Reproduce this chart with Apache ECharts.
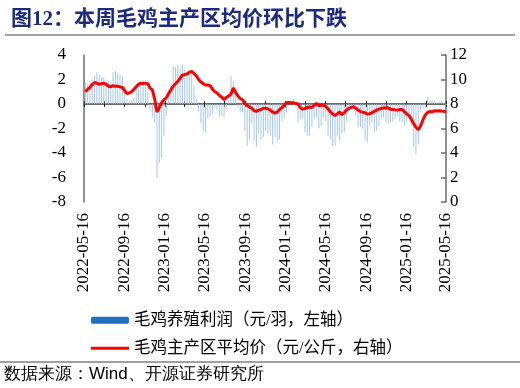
<!DOCTYPE html>
<html>
<head>
<meta charset="utf-8">
<script src="https://cdn.jsdelivr.net/npm/echarts@6/dist/echarts.min.js"></script>
<style>
html,body{margin:0;padding:0;background:#fff;}
#chart{width:520px;height:388px;}
</style>
</head>
<body>
<div id="chart"></div>
<script>
// Weekly data (Fridays) starting 2022-05-20
const firstWeek = '2022-05-20';
const profitLeft = [
 1.8,1.6,1.9,2.0,2.3,2.6,2.4,2.2,2.2,1.9,
 1.9,1.8,2.6,2.7,2.5,2.4,2.3,1.5,0.4,0.2,
 0.3,0.5,1.1,1.2,1.7,1.9,1.8,1.0,-0.5,-1.1,
 -1.5,-6.0,-4.8,-4.4,-2.6,-1.0,0.8,1.6,3.1,3.0,
 3.2,2.9,3.2,2.8,2.6,2.5,2.7,1.5,0.4,-0.6,
 -1.6,-2.2,-2.3,-1.2,-1.0,-0.8,-0.3,-0.5,-1.0,-0.9,
 -1.1,-0.4,0.3,2.3,1.9,0.8,-0.3,-0.7,-0.7,-2.2,
 -3.4,-2.9,-1.6,-3.0,-3.5,-2.4,-2.9,-2.7,-2.2,-2.4,
 -2.6,-3.3,-2.7,-3.0,-2.9,-1.4,-1.2,-0.7,0.2,0.3,
 0.4,-0.2,-1.5,-1.2,-1.2,-2.3,-2.6,-2.6,-1.9,-1.2,
 -1.1,-2.0,-1.8,-1.1,-1.4,-2.6,-2.9,-3.4,-3.4,-2.6,
 -3.0,-2.4,-2.3,-1.4,-0.4,-0.3,-0.5,-1.0,-1.9,-1.9,
 -2.0,-3.0,-3.1,-1.8,-1.5,-2.3,-2.2,-1.8,-1.2,-1.1,
 -1.5,-1.6,-1.5,-1.4,-1.2,-1.0,-1.4,-1.5,-1.8,-1.5,
 -1.0,-1.8,-3.5,-4.1,-3.3,-0.5,-0.4,-0.3,0.6,0.2,
 0.3,0.2,0.1,0.2,0.3,0.1,-0.1
];
const priceRight = [
 9.0,9.2,9.35,9.6,9.75,9.7,9.6,9.65,9.7,9.6,
 9.45,9.4,9.5,9.45,9.45,9.4,9.35,9.1,8.85,8.9,
 9.0,9.2,9.4,9.6,9.7,9.68,9.7,9.65,9.3,9.15,
 8.4,7.35,7.7,8.1,8.35,8.5,8.85,9.15,9.45,9.65,
 9.85,10.1,10.35,10.4,10.45,10.6,10.65,10.5,10.3,10.0,
 9.8,9.65,9.55,9.55,9.5,9.2,9.0,8.9,8.7,8.55,
 8.35,8.55,8.65,8.8,9.3,8.95,8.65,8.45,8.35,8.05,
 7.9,7.75,7.65,7.45,7.4,7.5,7.55,7.65,7.65,7.6,
 7.5,7.35,7.25,7.35,7.55,7.7,7.9,8.1,8.12,8.1,
 8.1,8.05,8.0,7.7,7.58,7.62,7.72,7.75,7.72,7.9,
 8.05,7.85,7.9,7.92,7.8,7.6,7.35,7.2,7.05,7.2,
 7.35,7.12,7.3,7.5,7.65,7.72,7.78,7.65,7.5,7.38,
 7.32,7.28,7.18,7.2,7.3,7.4,7.5,7.58,7.65,7.68,
 7.7,7.68,7.58,7.55,7.52,7.5,7.55,7.55,7.38,7.2,
 7.05,6.75,6.4,6.1,5.9,6.2,6.7,7.1,7.3,7.4,
 7.35,7.45,7.42,7.45,7.42,7.4,7.35
];
const tickLabels = ['2022-05-16','2022-09-16','2023-01-16','2023-05-16','2023-09-16',
 '2024-01-16','2024-05-16','2024-09-16','2025-01-16','2025-05-16'];
const tickMarks = ['2022-05-16','2022-07-16','2022-09-16','2022-11-16','2023-01-16','2023-03-16',
 '2023-05-16','2023-07-16','2023-09-16','2023-11-16','2024-01-16','2024-03-16','2024-05-16',
 '2024-07-16','2024-09-16','2024-11-16','2025-01-16','2025-03-16','2025-05-16'];
const leftTicks = {min:-8, max:4, step:2};
const rightTicks = {min:0, max:12, step:2};
const barName = '毛鸡养殖利润（元/羽，左轴）';
const lineName = '毛鸡主产区平均价（元/公斤，右轴）';
const titleText = '图12：本周毛鸡主产区均价环比下跌';
const sourceText = '数据来源：Wind、开源证券研究所';

function ts(s){const p=s.split('-').map(Number);return Date.UTC(p[0],p[1]-1,p[2]);}
function fmt(v){const d=new Date(v);const m=d.getUTCMonth()+1,dd=d.getUTCDate();return d.getUTCFullYear()+'-'+(m<10?'0':'')+m+'-'+(dd<10?'0':'')+dd;}
const fp = firstWeek.split('-').map(Number);
const weeks = profitLeft.map((_,i)=>Date.UTC(fp[0],fp[1]-1,fp[2]+7*i));
const barData = weeks.map((t,i)=>[t,profitLeft[i]]);
const lineData = weeks.map((t,i)=>[t,priceRight[i]]);

const serif = '"Liberation Serif","Times New Roman","Noto Sans CJK SC",serif';
const cjk = '"Liberation Serif","Noto Sans CJK SC",sans-serif';
const xMin = ts(tickLabels[0]), xMax = ts(tickLabels[tickLabels.length-1]);

function zeroAxis(inside){
  return {type:'value', min:xMin, max:xMax, position:'bottom',
    axisLine:{show:true,onZero:true,onZeroAxisIndex:0,lineStyle:{color:'#6b6b6b',width:2}},
    axisTick:{show:true,inside:inside,length:3,customValues:tickMarks.map(ts),lineStyle:{color:'#222',width:1}},
    axisLabel:{show:false}, splitLine:{show:false}};
}

const chart = echarts.init(document.getElementById('chart'), null, {renderer:'canvas'});
chart.setOption({
  backgroundColor:'#fff',
  animation:false,
  title:{text:titleText,left:6,top:4,textStyle:{fontSize:21,fontWeight:'bold',color:'#1c2a80',fontFamily:cjk}},
  grid:{left:84,right:74,top:55,bottom:186,outerBoundsMode:'none'},
  legend:[
    {data:[{name:barName,itemStyle:{color:'#1f6fc5'}}],left:86,top:307,itemWidth:38,itemHeight:7,
     selectedMode:false,textStyle:{fontSize:16.5,color:'#000',fontFamily:cjk}},
    {data:[{name:lineName,icon:'rect'}],left:86,top:335,itemWidth:38,itemHeight:3,
     selectedMode:false,textStyle:{fontSize:16.5,color:'#000',fontFamily:cjk}}
  ],
  xAxis:[
    {type:'value',min:xMin,max:xMax,position:'bottom',
     axisLine:{show:false,onZero:false},axisTick:{show:false},splitLine:{show:false},
     axisLabel:{customValues:tickLabels.map(ts),rotate:90,margin:11,fontSize:17,color:'#000',fontFamily:serif,
       showMinLabel:true,showMaxLabel:true,formatter:function(v){return fmt(v);}}},
    zeroAxis(false),
    zeroAxis(true)
  ],
  yAxis:[
    {type:'value',position:'left',min:leftTicks.min,max:leftTicks.max,interval:leftTicks.step,
     axisLine:{show:true,onZero:false,lineStyle:{color:'#6b6b6b',width:1.5}},axisTick:{show:false},
     splitLine:{show:false},axisLabel:{margin:18,fontSize:17,color:'#000',fontFamily:serif}},
    {type:'value',position:'right',min:rightTicks.min,max:rightTicks.max,interval:rightTicks.step,
     axisLine:{show:true,onZero:false,lineStyle:{color:'#6b6b6b',width:1.5}},
     axisTick:{show:true,inside:true,length:5,lineStyle:{color:'#6b6b6b',width:1.5}},
     splitLine:{show:false},axisLabel:{margin:4,fontSize:17,color:'#000',fontFamily:serif}}
  ],
  series:[
    {name:barName,type:'bar',xAxisIndex:0,yAxisIndex:0,data:barData,barWidth:1,
     itemStyle:{color:'#a4c8e8'},z:1},
    {name:lineName,type:'line',xAxisIndex:0,yAxisIndex:1,data:lineData,symbol:'none',
     lineStyle:{color:'#ff0000',width:3},itemStyle:{color:'#ff0000'},z:5}
  ],
  graphic:[
    {type:'line',shape:{x1:5,y1:35,x2:515,y2:35},style:{stroke:'#808080',lineWidth:1.5}},
    {type:'line',shape:{x1:0,y1:362,x2:520,y2:362},style:{stroke:'#808080',lineWidth:1.5}},
    {type:'text',left:4,top:366,style:{text:sourceText,fontSize:17,fill:'#000',font:'17px '+cjk}}
  ]
});
</script>
</body>
</html>
